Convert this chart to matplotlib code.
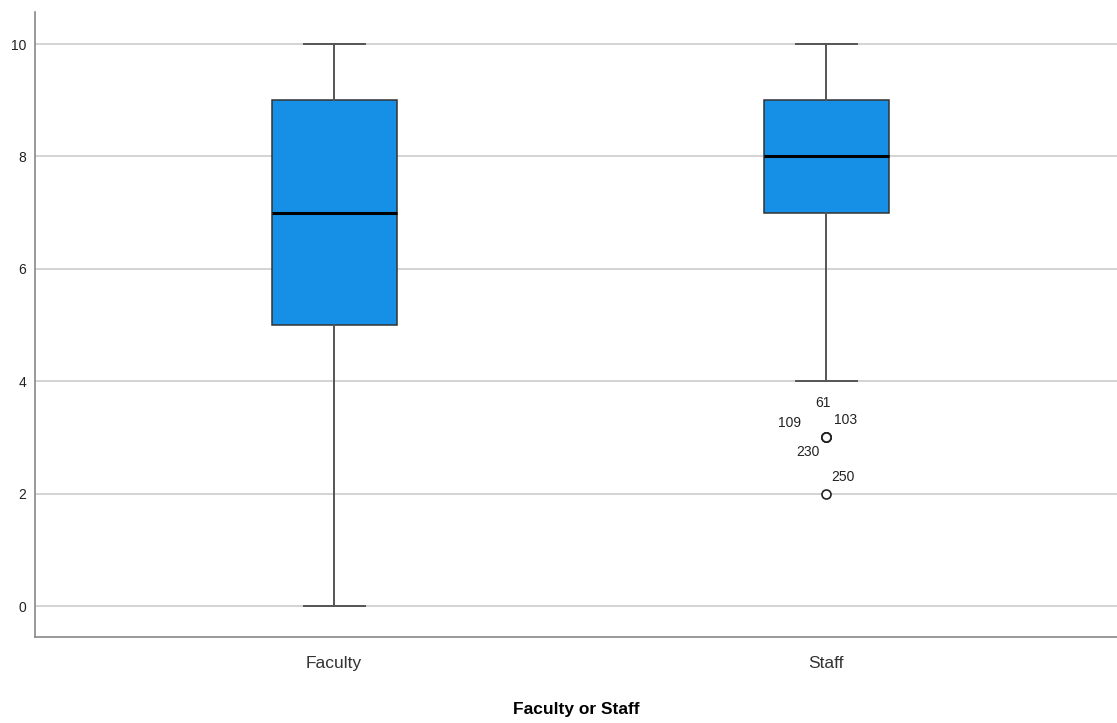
import matplotlib
matplotlib.use("Agg")
import matplotlib.pyplot as plt

plt.rcParams['font.family'] = ['Liberation Sans', 'DejaVu Sans']

categories = ["Faculty", "Staff"]
whisker_low = [0, 4]
q1 = [5, 7]
median = [7, 8]
q3 = [9, 9]
whisker_high = [10, 10]
outlier_values = [[], [3, 3, 3, 3, 2]]
outlier_ids = [[], ["61", "109", "103", "230", "250"]]
# label offsets (pixels) around each outlier point
label_offsets = [[], [(-3, 34), (-37, 14), (19, 17), (-18, -15), (17, 17)]]

fig = plt.figure(figsize=(11.17, 7.23), dpi=100)
ax = fig.add_axes([35 / 1117, 86 / 723, 1 - 35 / 1117, (637 - 12) / 723])

stats = []
for i, name in enumerate(categories):
    stats.append(dict(label=name, whislo=whisker_low[i], q1=q1[i], med=median[i],
                      q3=q3[i], whishi=whisker_high[i], fliers=outlier_values[i]))

ax.bxp(stats, positions=[0, 1], widths=0.254, patch_artist=True, capwidths=0.124,
       boxprops=dict(facecolor="#1590e6", edgecolor="#333333", linewidth=1.1),
       medianprops=dict(color="black", linewidth=2.2),
       whiskerprops=dict(color="#555555", linewidth=1.4),
       capprops=dict(color="#555555", linewidth=1.4),
       flierprops=dict(marker="o", markersize=6.5, markerfacecolor="white",
                       markeredgecolor="#222222", markeredgewidth=1.2),
       zorder=3)

for i in range(len(categories)):
    for val, lab, (dx, dy) in zip(outlier_values[i], outlier_ids[i], label_offsets[i]):
        ax.annotate(lab, xy=(i, val), xytext=(dx, dy), textcoords="offset pixels",
                    ha="center", va="center", fontsize=10, color="#222222")

ax.set_xlim(-0.608, 1.591)
ax.set_ylim(-0.55, 10.57)
ax.set_yticks([0, 2, 4, 6, 8, 10])
ax.yaxis.grid(True, color="#cccccc", linewidth=1.2, zorder=0)
ax.set_axisbelow(True)
ax.tick_params(axis="both", length=0)
ax.tick_params(axis="y", labelsize=10, pad=6.5, colors="#222222")
ax.tick_params(axis="x", labelsize=12.5, pad=14, colors="#333333")
for s in ["top", "right"]:
    ax.spines[s].set_visible(False)
for s in ["left", "bottom"]:
    ax.spines[s].set_color("#888888")
    ax.spines[s].set_linewidth(1.2)
ax.set_xlabel("Faculty or Staff", fontsize=12.5, fontweight="bold", labelpad=22)

fig.savefig("out.png", dpi=100)
